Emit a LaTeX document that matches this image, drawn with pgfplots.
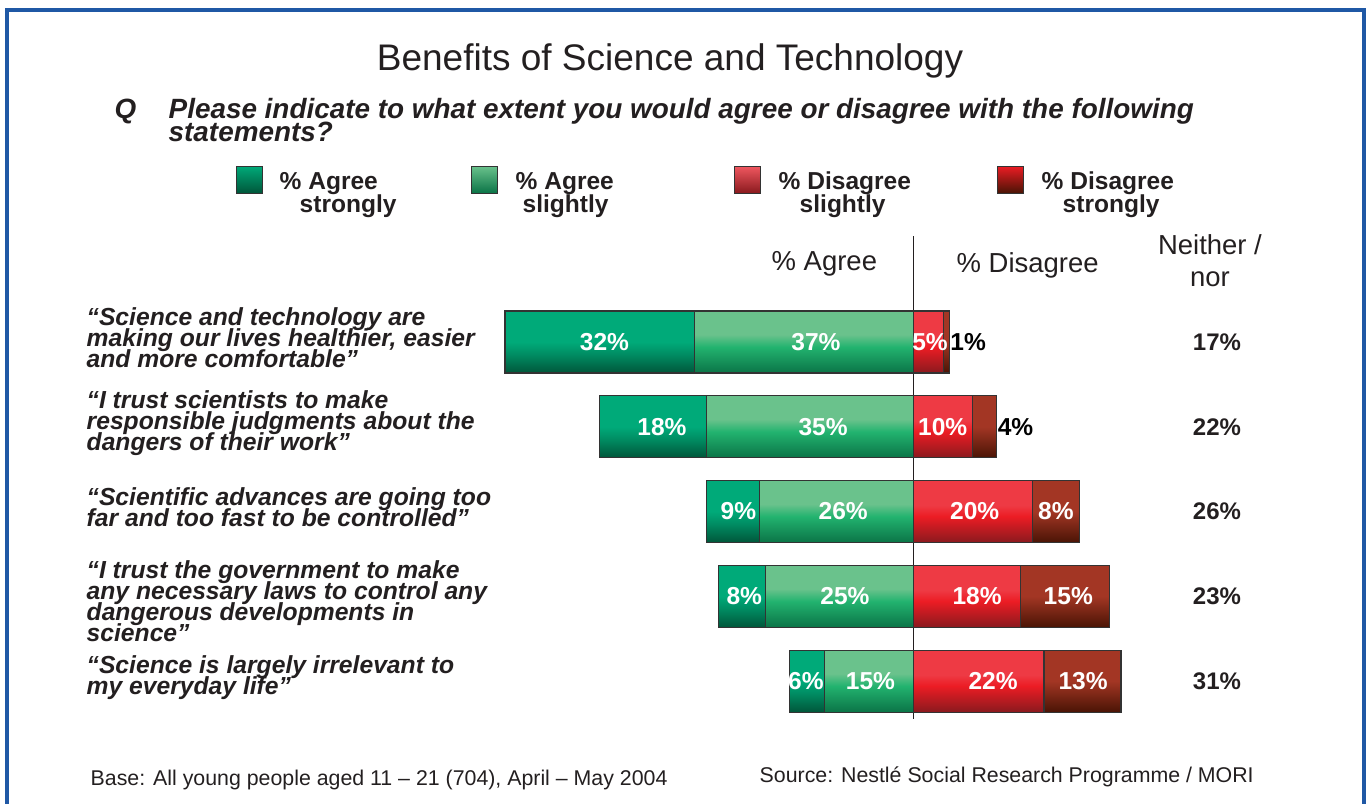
\documentclass[border=0pt]{standalone}
\usepackage{pgfplots}
\pgfplotsset{compat=1.18}
\usepackage{fontspec}
\setmainfont{Liberation Sans}
\definecolor{frameblue}{HTML}{1F58A5}
\definecolor{txt}{HTML}{231F20}
\definecolor{asL}{HTML}{00AA79}
\definecolor{asM}{HTML}{008C62}
\definecolor{asD}{HTML}{00563A}
\definecolor{alL}{HTML}{6AC28C}
\definecolor{alM}{HTML}{22B36F}
\definecolor{alD}{HTML}{0B7447}
\definecolor{dsL}{HTML}{EE3A44}
\definecolor{dsM}{HTML}{EC1C24}
\definecolor{dsD}{HTML}{8A1A1E}
\definecolor{ddL}{HTML}{A33624}
\definecolor{ddD}{HTML}{4A1405}
\pgfdeclareverticalshading{shAS}{100bp}{color(0bp)=(asD); color(25bp)=(asD); color(40bp)=(asM); color(50bp)=(asL); color(100bp)=(asL)}
\pgfdeclareverticalshading{shAL}{100bp}{color(0bp)=(alD); color(25bp)=(alD); color(46bp)=(alM); color(56bp)=(alL); color(100bp)=(alL)}
\pgfdeclareverticalshading{shDS}{100bp}{color(0bp)=(dsD); color(25bp)=(dsD); color(46bp)=(dsM); color(55bp)=(dsL); color(100bp)=(dsL)}
\pgfdeclareverticalshading{shDD}{100bp}{color(0bp)=(ddD); color(25bp)=(ddD); color(50bp)=(ddL); color(100bp)=(ddL)}
\newcommand{\catfont}{\bfseries\itshape\fontsize{18.5}{15.75}\selectfont\lineskiplimit=-30pt\relax\lineskip=0pt\relax}
\begin{document}
\begin{tikzpicture}
\begin{scope}[x=0.75pt,y=-0.75pt]
\useasboundingbox (0,0) rectangle (1370,803);
\draw[frameblue, line width=2.3pt] (7,815) -- (7,10) -- (1364,10) -- (1364,815);
% title and question
\node[anchor=base, text=txt, font=\fontsize{27.75}{33}\selectfont] at (670,70) {Benefits of Science and Technology};
\begin{scope}[every node/.style={anchor=base west, text=txt, font=\bfseries\itshape\fontsize{20.9}{22}\selectfont}]
\node at (110,118) {Q};
\node at (164,118) {Please indicate to what extent you would agree or disagree with the following};
\node at (164,141) {statements?};
\end{scope}
% legend
\draw[black!80, top color=asL, bottom color=asD] (236,166) rectangle (262,193);
\draw[black!80, top color=alL, bottom color=alD] (471,166) rectangle (497,193);
\draw[black!80, top color=dsL!85!white, bottom color=dsD] (734,166) rectangle (760,193);
\draw[black!80, top color=dsM, bottom color=ddD] (997,166) rectangle (1023,193);
\begin{scope}[every node/.style={anchor=base west, text=txt, font=\bfseries\fontsize{18.4}{20}\selectfont}]
\node at (275,189) {\% Agree};
\node at (295,212) {strongly};
\node at (511,189) {\% Agree};
\node at (518,212) {slightly};
\node at (774,189) {\% Disagree};
\node at (795,212) {slightly};
\node at (1037,189) {\% Disagree};
\node at (1058,212) {strongly};
\end{scope}
% column headers
\begin{scope}[every node/.style={text=txt, font=\fontsize{20.6}{22}\selectfont}]
\node[anchor=base west] at (767,270) {\% Agree};
\node[anchor=base west] at (952,272) {\% Disagree};
\node[anchor=base] at (1210,254) {Neither /};
\node[anchor=base] at (1210,286) {nor};
\end{scope}
% category labels
\begin{scope}[every node/.style={anchor=west, align=left, text=txt, font=\catfont}]
\node at (82,338) {“Science and technology are\\making our lives healthier, easier\\and more comfortable”};
\node at (82,423) {“I trust scientists to make\\responsible judgments about the\\dangers of their work”};
\node at (82,507) {“Scientific advances are going too\\far and too fast to be controlled”};
\node at (82,601) {“I trust the government to make\\any necessary laws to control any\\dangerous developments in\\science”};
\node at (82,678) {“Science is largely irrelevant to\\my everyday life”};
\end{scope}
% footer
\begin{scope}[every node/.style={anchor=base west, text=txt, font=\fontsize{16}{18}\selectfont}]
\node at (86,785) {Base: All young people aged 11 – 21 (704), April – May 2004};
\node at (755,782) {Source: Nestlé Social Research Programme / MORI};
\end{scope}
\end{scope}
\begin{axis}[
  at={(378.75pt,-542.55pt)}, anchor=south west,
  scale only axis, width=462pt, height=365.5pt,
  xmin=-69, xmax=35, ymin=-0.25, ymax=5.5, y dir=reverse,
  hide axis, clip=false,
  barstyle/.style={xbar, bar width=46.5pt, bar shift=0pt, draw=black!80, line width=0.8pt, shade},
  AS/.style={barstyle, shading=shAS},
  AL/.style={barstyle, shading=shAL},
  DS/.style={barstyle, shading=shDS},
  DD/.style={barstyle, shading=shDD},
  labstyle/.style={draw=none, nodes near coords={\pgfplotspointmeta\%}, nodes near coords align=center,
     point meta=explicit symbolic,
     every node near coord/.append style={anchor=center, font=\bfseries\fontsize{18.4}{20}\selectfont}},
]
\addplot[draw=txt, line width=1pt] coordinates {(0,-0.25) (0,5.45)};
% Agree: strongly drawn as total (strongly + slightly), slightly drawn on top
\addplot[AS] coordinates {(-69,1)};
\addplot[AS] coordinates {(-53,2)};
\addplot[AS] coordinates {(-35,3)};
\addplot[AS] coordinates {(-33,4)};
\addplot[AS] coordinates {(-21,5)};
\addplot[AL] coordinates {(-37,1)};
\addplot[AL] coordinates {(-35,2)};
\addplot[AL] coordinates {(-26,3)};
\addplot[AL] coordinates {(-25,4)};
\addplot[AL] coordinates {(-15,5)};
% Disagree: strongly drawn as total (slightly + strongly), slightly drawn on top
\addplot[DD] coordinates {(6,1)};
\addplot[DD] coordinates {(14,2)};
\addplot[DD] coordinates {(28,3)};
\addplot[DD] coordinates {(33,4)};
\addplot[DD] coordinates {(35,5)};
\addplot[DS] coordinates {(5,1)};
\addplot[DS] coordinates {(10,2)};
\addplot[DS] coordinates {(20,3)};
\addplot[DS] coordinates {(18,4)};
\addplot[DS] coordinates {(22,5)};
% value labels inside bars
\addplot[labstyle, every node near coord/.append style={text=white}] table[meta=lab] {
x y lab
-52.2 1 32
-16.5 1 37
-42.5 2 18
-15.3 2 35
-29.6 3 9
-11.9 3 26
-28.6 4 8
-11.6 4 25
-18.2 5 6
-7.3 5 15
2.75 1 5
4.9 2 10
10.3 3 20
24.0 3 8
10.7 4 18
26.1 4 15
13.4 5 22
28.6 5 13
};
% labels outside bars
\addplot[labstyle, every node near coord/.append style={text=black}] table[meta=lab] {
x y lab
9.2 1 1
17.2 2 4
};
% neither / nor
\addplot[labstyle, every node near coord/.append style={text=txt, font=\bfseries\fontsize{18}{20}\selectfont}] table[meta=lab] {
x y lab
51.2 1 17
51.2 2 22
51.2 3 26
51.2 4 23
51.2 5 31
};
\end{axis}
\end{tikzpicture}
\end{document}
